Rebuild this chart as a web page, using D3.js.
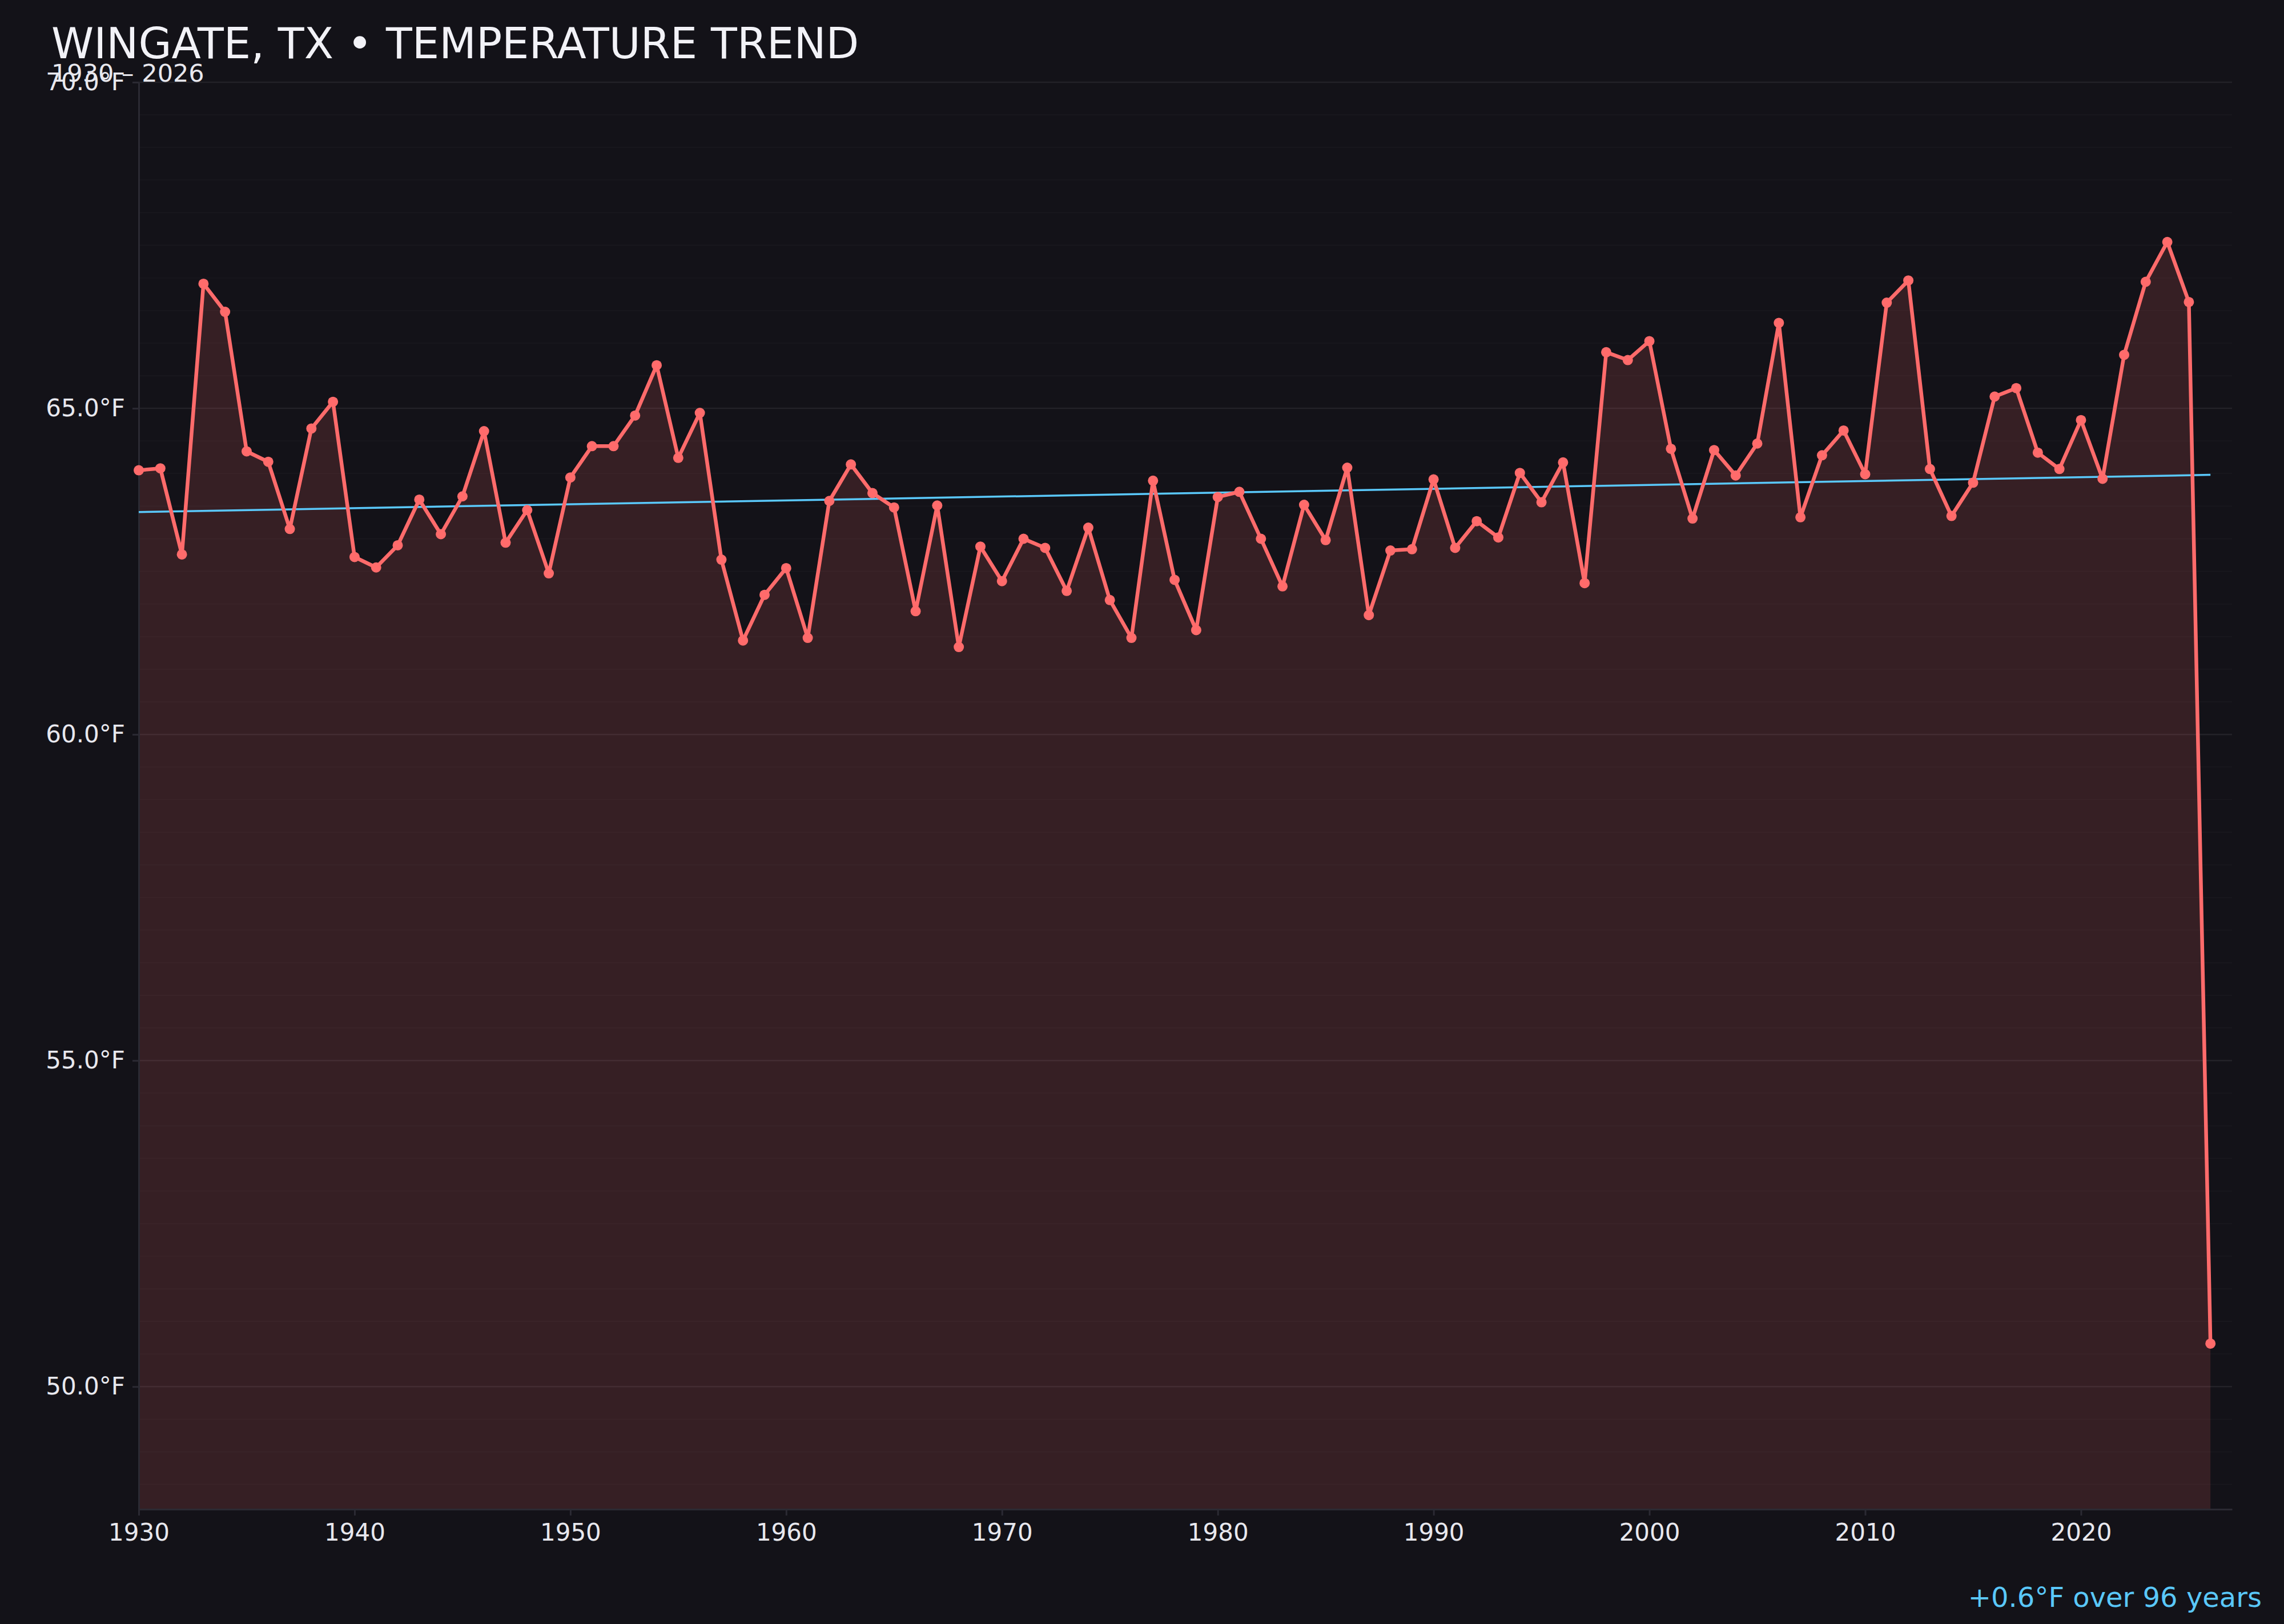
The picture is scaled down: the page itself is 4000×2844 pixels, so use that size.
<!DOCTYPE html>
<html>
<head>
<meta charset="utf-8">
<script src="https://cdn.jsdelivr.net/npm/d3@7"></script>
<style>
  html, body { margin: 0; padding: 0; background: #131218; }
  svg { display: block; }
</style>
</head>
<body>
<div id="chart"></div>
<script>
// yearly mean temperature
var years = d3.range(1930, 2027);
var temps = [
  64.05, 64.08, 62.76, 66.91, 66.48, 64.34, 64.18, 63.15, 64.69, 65.10,
  62.72, 62.56, 62.90, 63.60, 63.07, 63.65, 64.65, 62.94, 63.44, 62.47,
  63.94, 64.42, 64.42, 64.89, 65.66, 64.24, 64.93, 62.68, 61.44, 62.14,
  62.55, 61.48, 63.58, 64.14, 63.70, 63.48, 61.89, 63.51, 61.34, 62.88,
  62.35, 63.00, 62.86, 62.20, 63.17, 62.06, 61.48, 63.89, 62.37, 61.60,
  63.64, 63.72, 63.00, 62.27, 63.52, 62.98, 64.09, 61.83, 62.82, 62.84,
  63.91, 62.86, 63.27, 63.02, 64.01, 63.56, 64.17, 62.32, 65.86, 65.74,
  66.03, 64.38, 63.31, 64.36, 63.97, 64.46, 66.31, 63.33, 64.28, 64.66,
  63.99, 66.62, 66.96, 64.07, 63.35, 63.86, 65.18, 65.31, 64.32, 64.07,
  64.82, 63.92, 65.82, 66.94, 67.55, 66.63, 50.66
];
var trendYears = [1930, 2026];
var trendValues = [63.41, 63.98];
var xTicks = [1930, 1940, 1950, 1960, 1970, 1980, 1990, 2000, 2010, 2020];
var yTicks = [50, 55, 60, 65, 70];

var titleText = "WINGATE, TX \u2022 TEMPERATURE TREND";
var subtitleText = "1930 \u2013 2026";
var trendLabel = "+0.6\u00B0F over 96 years";

var W = 4000, H = 2844;
var margin = {top: 144, right: 91, bottom: 201, left: 243};
var font = "DejaVu Sans, sans-serif";

var data = years.map(function(y, i) { return {year: y, value: temps[i]}; });
var trend = trendYears.map(function(y, i) { return {year: y, value: trendValues[i]}; });

var svg = d3.select("#chart").append("svg")
  .attr("width", W)
  .attr("height", H);

svg.append("rect")
  .attr("width", W).attr("height", H)
  .attr("fill", "#131218");

var x = d3.scaleLinear().domain([1930, 2027]).range([margin.left, W - margin.right]);
var y = d3.scaleLinear().domain([48.12, 70]).range([H - margin.bottom, margin.top]);

// grid, minor every half degree, major on the labelled ticks
var minor = d3.range(48.5, 70, 0.5).filter(function(v) { return v % 5 !== 0; });
svg.append("g")
  .selectAll("line")
  .data(minor)
  .enter().append("line")
  .attr("x1", x.range()[0]).attr("x2", x.range()[1])
  .attr("y1", function(d) { return y(d); })
  .attr("y2", function(d) { return y(d); })
  .attr("stroke", "#ffffff")
  .attr("stroke-opacity", 0.025)
  .attr("stroke-width", 2);

svg.append("g")
  .selectAll("line")
  .data(yTicks)
  .enter().append("line")
  .attr("x1", x.range()[0]).attr("x2", x.range()[1])
  .attr("y1", function(d) { return y(d); })
  .attr("y2", function(d) { return y(d); })
  .attr("stroke", "#ffffff")
  .attr("stroke-opacity", 0.07)
  .attr("stroke-width", 2.5);

// area under the series
svg.append("path")
  .datum(data)
  .attr("fill", "#ff6b6b")
  .attr("fill-opacity", 0.15)
  .attr("d", d3.area()
    .x(function(d) { return x(d.year); })
    .y0(y.range()[0])
    .y1(function(d) { return y(d.value); }));

// axes
var yAxis = svg.append("g")
  .attr("transform", "translate(" + margin.left + ",0)")
  .call(d3.axisLeft(y).tickValues(yTicks).tickSize(11).tickSizeOuter(0).tickPadding(13)
    .tickFormat(function(d) { return d3.format(".1f")(d) + "\u00B0F"; }));

var xAxis = svg.append("g")
  .attr("transform", "translate(0," + (H - margin.bottom) + ")")
  .call(d3.axisBottom(x).tickValues(xTicks).tickSize(11).tickSizeOuter(0).tickPadding(14)
    .tickFormat(d3.format("d")));

[yAxis, xAxis].forEach(function(ax) {
  ax.select(".domain").attr("stroke", "#2b2a33").attr("stroke-width", 3);
  ax.selectAll(".tick line").attr("stroke", "#2b2a33").attr("stroke-width", 3);
  ax.selectAll(".tick text")
    .attr("fill", "#e8e8ee")
    .style("font-family", font)
    .style("font-size", "42px");
});

// trend line
svg.append("path")
  .datum(trend)
  .attr("fill", "none")
  .attr("stroke", "#5ac8fa")
  .attr("stroke-width", 3.5)
  .attr("d", d3.line()
    .x(function(d) { return x(d.year); })
    .y(function(d) { return y(d.value); }));

// series line and dots
svg.append("path")
  .datum(data)
  .attr("fill", "none")
  .attr("stroke", "#ff6b6b")
  .attr("stroke-width", 6.5)
  .attr("stroke-linejoin", "round")
  .attr("d", d3.line()
    .x(function(d) { return x(d.year); })
    .y(function(d) { return y(d.value); }));

svg.append("g")
  .selectAll("circle")
  .data(data)
  .enter().append("circle")
  .attr("cx", function(d) { return x(d.year); })
  .attr("cy", function(d) { return y(d.value); })
  .attr("r", 9)
  .attr("fill", "#ff6b6b");

// titles
svg.append("text")
  .attr("x", 90).attr("y", 102)
  .attr("fill", "#f2f2f7")
  .style("font-family", font)
  .style("font-size", "75px")
  .text(titleText);

svg.append("text")
  .attr("x", 90).attr("y", 143)
  .attr("fill", "#e8e8ee")
  .style("font-family", font)
  .style("font-size", "43px")
  .text(subtitleText);

svg.append("text")
  .attr("x", 3961).attr("y", 2814)
  .attr("text-anchor", "end")
  .attr("fill", "#5ac8fa")
  .style("font-family", font)
  .style("font-size", "48px")
  .text(trendLabel);
</script>
</body>
</html>
